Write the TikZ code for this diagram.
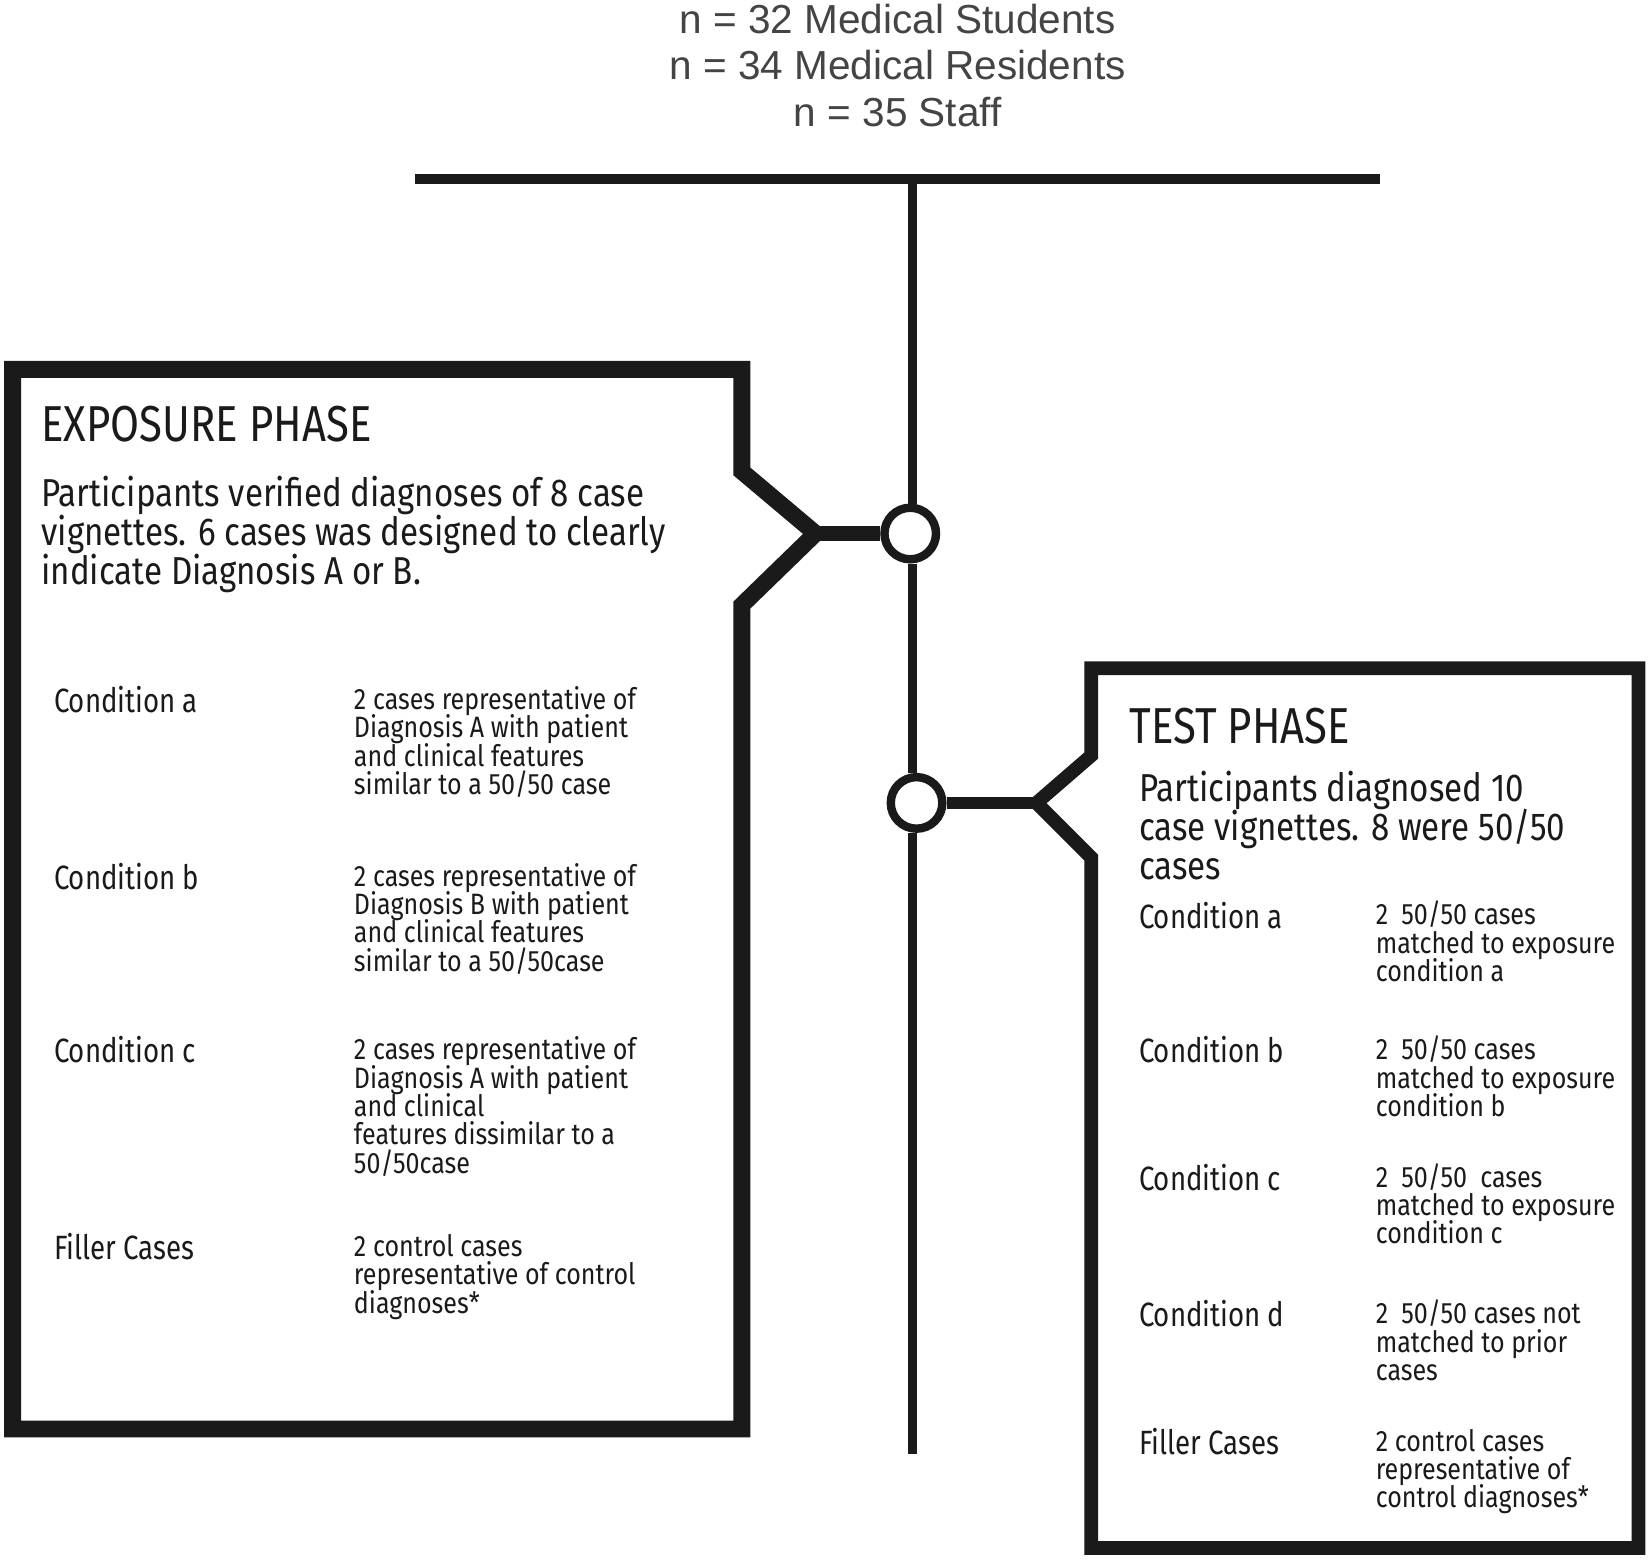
\documentclass[tikz,border=0pt]{standalone}
\usepackage{fontspec}
\newfontfamily\cfh[FakeStretch=0.83]{Fira Sans}
\newfontfamily\cfp[FakeStretch=0.85]{Fira Sans}
\newfontfamily\cfl[FakeStretch=0.82]{Fira Sans}
\newfontfamily\cfd[FakeStretch=0.85]{Fira Sans}
\newfontfamily\af{Liberation Sans}
\definecolor{ink}{HTML}{1A1A1A}
\definecolor{topgray}{HTML}{444444}
\newcommand{\ml}[1]{\vtop{\lineskiplimit=-\maxdimen\lineskip=0pt\def\\{\cr}\halign{##\hfil\cr#1\crcr}}}
\newcommand{\mc}[1]{\vtop{\lineskiplimit=-\maxdimen\lineskip=0pt\def\\{\cr}\halign{\hfil##\hfil\cr#1\crcr}}}
\begin{document}
\begin{tikzpicture}[x=0.5pt,y=-0.5pt,
  txt/.style={anchor=base west, inner sep=0pt, text=ink},
  head/.style={txt, font=\cfh\fontsize{24}{24}\selectfont},
  para/.style={txt, font=\cfp\fontsize{18.5}{18.5}\selectfont},
  lab/.style={txt, font=\cfl\fontsize{16}{16}\selectfont},
  desc/.style={txt, font=\cfd\fontsize{14}{13.5}\selectfont},
  boxline/.style={draw=ink, line join=miter},
  hub/.style={circle, draw=ink, fill=white, line width=4pt, minimum size=24.5pt, inner sep=0pt},
  trunk/.style={draw=ink, line width=4pt},
]
\useasboundingbox[fill=white] (0,0) rectangle (1568,1482);

% coordinates
\coordinate (bartop) at (867,170);
\coordinate (barL) at (394,170);
\coordinate (barR) at (1311,170);
\coordinate (trunkend) at (867,1382);
\coordinate (t1) at (775,507);
\coordinate (t2) at (985,763);

% boxes
\draw[boxline, line width=8pt] (t1) -- (705,575) -- (705,1358) -- (12,1358) -- (12,351) -- (705,351) -- (705,448) -- cycle;
\draw[boxline, line width=6.5pt] (t2) -- (1037,815) -- (1037,1471) -- (1557,1471) -- (1557,635) -- (1037,635) -- (1037,718) -- cycle;

% bar and trunk
\draw[ink, line width=4.5pt] (barL) -- (barR);
\node[hub] (c1) at (865,507) {};
\node[hub] (c2) at (871,763) {};
\draw[trunk] (bartop) -- (bartop |- c1.north);
\draw[trunk] (bartop |- c1.south) -- (bartop |- c2.north);
\draw[trunk] (bartop |- c2.south) -- (trunkend);
\draw[ink, line width=7pt] (t1) -- (c1.west);
\draw[ink, line width=5.5pt] (c2.east) -- (t2);

% top text
\node[anchor=base, inner sep=0pt, text=topgray, font=\af\fontsize{19.25}{22}\selectfont] (pop) at (853,32) {\mc{n = 32 Medical Students\\ n = 34 Medical Residents\\ n = 35 Staff}};

% exposure phase
\node[head] (exph) at (39,420) {EXPOSURE PHASE};
\node[para] (expp) at (39,481) {\ml{Participants verified diagnoses of 8 case\\ vignettes. 6 cases was designed to clearly\\ indicate Diagnosis A or B.}};
\node[lab] (ea) at (51,677) {Condition a};
\node[desc] (ead) at (336,674) {\ml{2 cases representative of\\ Diagnosis A with patient\\ and clinical features\\ similar to a 50/50 case}};
\node[lab] (eb) at (51,845) {Condition b};
\node[desc] (ebd) at (336,842) {\ml{2 cases representative of\\ Diagnosis B with patient\\ and clinical features\\ similar to a 50/50case}};
\node[lab] (ec) at (51,1010) {Condition c};
\node[desc] (ecd) at (336,1007) {\ml{2 cases representative of\\ Diagnosis A with patient\\ and clinical\\ features dissimilar to a\\ 50/50case}};
\node[lab] (ef) at (51,1197) {Filler Cases};
\node[desc] (efd) at (336,1194) {\ml{2 control cases\\ representative of control\\ diagnoses*}};

% test phase
\node[head] (testh) at (1073,707) {TEST PHASE};
\node[para] (testp) at (1082,762) {\ml{Participants diagnosed 10\\ case vignettes. 8 were 50/50\\ cases}};
\node[lab] (ta) at (1082,882) {Condition a};
\node[desc] (tad) at (1307,879) {\ml{2\ \ 50/50 cases\\ matched to exposure\\ condition a}};
\node[lab] (tb) at (1082,1010) {Condition b};
\node[desc] (tbd) at (1307,1007) {\ml{2\ \ 50/50 cases\\ matched to exposure\\ condition b}};
\node[lab] (tc) at (1082,1131) {Condition c};
\node[desc] (tcd) at (1307,1128) {\ml{2\ \ 50/50\ \ cases\\ matched to exposure\\ condition c}};
\node[lab] (td) at (1082,1261) {Condition d};
\node[desc] (tdd) at (1307,1258) {\ml{2\ \ 50/50 cases not\\ matched to prior\\ cases}};
\node[lab] (tf) at (1082,1382) {Filler Cases};
\node[desc] (tfd) at (1307,1379) {\ml{2 control cases\\ representative of\\ control diagnoses*}};
\end{tikzpicture}
\end{document}
